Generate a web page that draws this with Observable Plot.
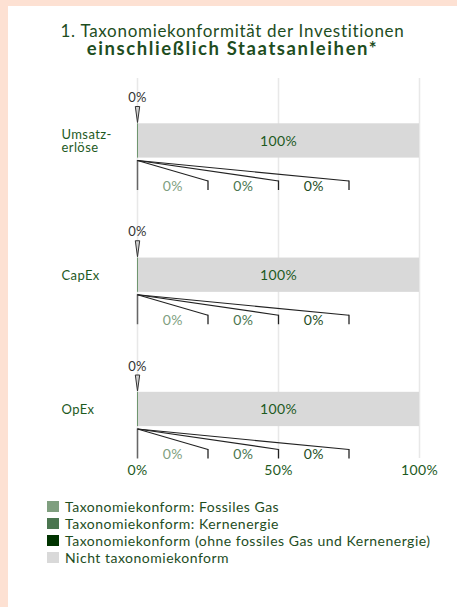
<!DOCTYPE html>
<html>
<head>
<meta charset="utf-8">
<script src="https://cdn.jsdelivr.net/npm/d3@7"></script>
<script src="https://cdn.jsdelivr.net/npm/@observablehq/plot@0.6"></script>
<style>
  html, body { margin: 0; padding: 0; }
  body { width: 457px; height: 607px; background: #fde1d3; position: relative; overflow: hidden; font-family: Lato, "Open Sans", sans-serif; }
  #panel { position: absolute; left: 8px; top: 6px; right: 0; bottom: 0; background: #ffffff; }
  #title { position: absolute; left: 8px; right: 0; top: 21.5px; text-align: center; color: #1e4d1e; }
  #title .l1 { font-size: 17px; line-height: 17px; letter-spacing: 0.7px; }
  #title .l2 { font-size: 18.5px; line-height: 18px; letter-spacing: 1.6px; font-weight: 700; }
  #chart { position: absolute; left: 0; top: 60px; }
  #legend { position: absolute; left: 47px; top: 497.5px; color: #1e4d1e; font-size: 14px; letter-spacing: 0.5px; }
  .row { display: flex; align-items: center; height: 17.2px; white-space: nowrap; }
  .sw { width: 12px; height: 11px; margin-right: 6px; flex: none; }
</style>
</head>
<body>
<div id="panel"></div>
<div id="title"><div class="l1">1. Taxonomiekonformität der Investitionen</div><div class="l2">einschließlich Staatsanleihen*</div></div>
<div id="chart"></div>
<div id="legend"></div>
<script>
// ---- data ----
const categories = ["Umsatz-\nerlöse", "CapEx", "OpEx"];
const fossilGas = [0, 0, 0];
const nuclear = [0, 0, 0];
const alignedOther = [0, 0, 0];
const notAligned = [100, 100, 100];
const seriesNames = [
  "Taxonomiekonform: Fossiles Gas",
  "Taxonomiekonform: Kernenergie",
  "Taxonomiekonform (ohne fossiles Gas und Kernenergie)",
  "Nicht taxonomiekonform"
];
const seriesColors = ["#7f9f7f", "#4b7650", "#003300", "#d9d9d9"];
const calloutTextColors = ["#7f9f7f", "#4b7650", "#1e4d1e"];
const xTicks = [0, 50, 100];
const xTickLabels = ["0%", "50%", "100%"];

// ---- layout (row-relative units on a linear y scale) ----
const ROW = 134.25;
const Y_END = 380;
const rowY = (i, off) => i * ROW + off;
const green = "#1e5a1e";

const rows = categories.map((cat, i) => {
  const vals = [fossilGas[i], nuclear[i], alignedOther[i], notAligned[i]];
  return { i, cat, vals, aligned: vals[0] + vals[1] + vals[2] };
});

// stacked segments
const segs = [];
rows.forEach(r => {
  let acc = 0;
  r.vals.forEach((v, s) => {
    segs.push({ i: r.i, series: seriesNames[s], x1: acc, x2: acc + v });
    acc += v;
  });
});
const barLabels = rows.map(r => ({ i: r.i, x: r.aligned + notAligned[r.i] / 2, text: `${notAligned[r.i]}%` }));

// callout fan (three aligned series)
const fanEnds = [25, 50, 75];
const fanLabelX = [12.5, 37.5, 62.5];
const fan = [];
rows.forEach(r => {
  [0, 1, 2].forEach(s => fan.push({ i: r.i, s, xe: fanEnds[s], xl: fanLabelX[s], text: `${r.vals[s]}%`, color: calloutTextColors[s] }));
});

const spike = {
  draw(ctx) {
    ctx.moveTo(-2.2, -16);
    ctx.lineTo(2.2, -16);
    ctx.lineTo(0, 0);
    ctx.closePath();
  }
};

const chart = Plot.plot({
  width: 457,
  height: 430,
  marginLeft: 137,
  marginRight: 38,
  marginTop: 18,
  marginBottom: 32,
  style: { fontFamily: "Lato, 'Open Sans', sans-serif", fontSize: "14px", letterSpacing: "0.4px", color: green, background: "transparent", overflow: "visible" },
  x: { domain: [0, 100] },
  y: { domain: [0, Y_END], reverse: true, axis: null },
  color: { domain: seriesNames, range: seriesColors },
  marks: [
    Plot.ruleX(xTicks, { x: d => d, y1: 0, y2: Y_END, stroke: "#e8e8e8", strokeWidth: 1.5 }),
    Plot.axisX({ ticks: xTicks, tickFormat: d => xTickLabels[xTicks.indexOf(d)], tickSize: 0, tickPadding: 7, fill: green, fontSize: 14 }),
    Plot.rectX(segs, { x1: "x1", x2: "x2", y1: d => rowY(d.i, 45.3), y2: d => rowY(d.i, 79.6), fill: "series" }),
    Plot.ruleX(rows, { x: d => 0, y1: d => rowY(d.i, 45.3), y2: d => rowY(d.i, 79.6), stroke: "#6f966f", strokeWidth: 1 }),
    Plot.text(barLabels, { x: "x", y: d => rowY(d.i, 62.6), text: "text", fill: green, fontSize: 14 }),
    Plot.text(rows, { x: d => 0, y: d => rowY(d.i, 63), text: "cat", dx: -76, textAnchor: "start", lineHeight: 0.95, fill: green, fontSize: 13 }),
    Plot.text(rows, { x: d => 0, y: d => rowY(d.i, 19.5), text: d => `${d.aligned}%`, fill: "#333", fontSize: 13 }),
    Plot.dot(rows, { x: d => 0, y: d => rowY(d.i, 44), symbol: spike, fill: "#d0d0d0", stroke: "#333", strokeWidth: 1, r: 3 }),
    Plot.ruleX(rows, { x: d => 0, y1: d => rowY(d.i, 82), y2: d => rowY(d.i, 112), stroke: "#666", strokeWidth: 1.5 }),
    Plot.link(fan, { x1: d => 0, y1: d => rowY(d.i, 82), x2: "xe", y2: d => rowY(d.i, 102.5), stroke: "#222", strokeWidth: 1.2 }),
    Plot.ruleX(fan, { x: "xe", y1: d => rowY(d.i, 102.5), y2: d => rowY(d.i, 112), stroke: "#222", strokeWidth: 1.3 }),
    Plot.text(fan, { x: "xl", y: d => rowY(d.i, 108), text: "text", fill: "color", fontSize: 14 })
  ]
});
document.getElementById("chart").appendChild(chart);

// legend
const legend = document.getElementById("legend");
seriesNames.forEach((name, k) => {
  const row = document.createElement("div");
  row.className = "row";
  const sw = document.createElement("span");
  sw.className = "sw";
  sw.style.background = seriesColors[k];
  const lab = document.createElement("span");
  lab.textContent = name;
  row.appendChild(sw);
  row.appendChild(lab);
  legend.appendChild(row);
});
</script>
</body>
</html>
